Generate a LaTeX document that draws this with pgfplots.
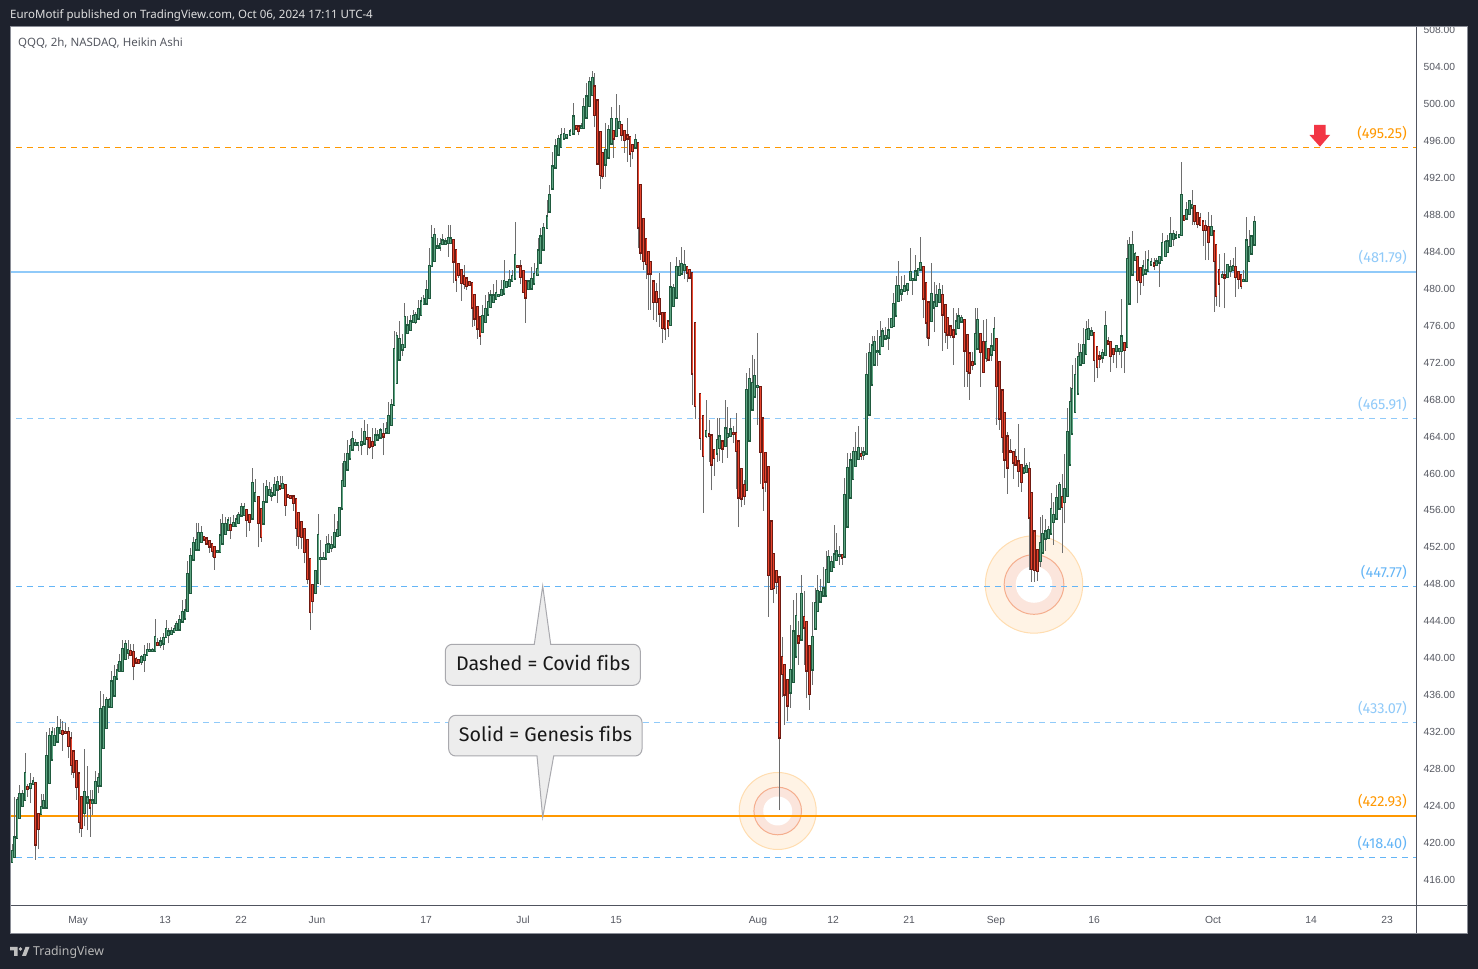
\documentclass[border=0pt]{standalone}
\usepackage{pgfplots}
\usepackage{pgfplotstable}
\usepackage{fontspec}
\pgfplotsset{compat=1.18}
\setmainfont{Liberation Sans}
\newfontfamily\uifont{Noto Sans}
\newfontfamily\callfont[Ligatures=NoCommon]{Fira Sans}
\definecolor{bgdark}{HTML}{1E222D}
\definecolor{frame}{HTML}{8A8D96}
\definecolor{divider}{HTML}{50535E}
\definecolor{ticktxt}{HTML}{555861}
\definecolor{wick}{HTML}{6E6E6E}
\definecolor{gdark}{HTML}{1F5A3E}
\definecolor{glight}{HTML}{5FA583}
\definecolor{rdark}{HTML}{6F1A12}
\definecolor{rlight}{HTML}{E8452E}
\definecolor{orangeL}{HTML}{FF9800}
\definecolor{blueA}{HTML}{90CAF9}
\definecolor{blueB}{HTML}{64B5F6}
\definecolor{ringA}{HTML}{FFF3E5}
\definecolor{ringAs}{HTML}{FFDDB0}
\definecolor{ringB}{HTML}{FBE5DC}
\definecolor{ringBs}{HTML}{F5AE8E}
\definecolor{callfill}{HTML}{EDEDED}
\definecolor{callline}{HTML}{A9A9AE}
\definecolor{arrowred}{HTML}{F23645}
\pgfplotstableread{
x o h l c
12.0 418.0 419.9 418.0 419.1
14.3 418.5 425.0 418.5 420.6
17.0 420.6 425.0 420.6 424.66
19.7 422.7 426.3 422.7 425.31
22.3 424.0 425.75 424.0 425.31
25.0 424.7 429.7 424.7 427.55
27.7 426.07 426.4 425.0 425.89
30.3 426.0 427.55 424.3 426.4
33.0 426.4 427.2 426.4 426.65
35.7 426.5 426.5 418.17 419.87
38.3 423.15 423.15 419.4 421.5
41.0 423.15 425.3 423.1 423.87
43.7 423.87 425.3 423.87 424.5
46.7 423.87 432.06 423.87 429.4
49.3 426.54 432.5 426.5 431.6
52.0 429.07 432.6 429.07 431.95
54.7 430.6 432.4 430.6 431.6
57.3 431.0 433.75 431.0 432.4
60.0 431.95 433.4 431.9 432.4
62.7 432.13 433.25 430.0 431.84
65.7 432.0 433.0 431.9 431.95
68.3 432.0 432.6 429.2 430.55
71.0 431.3 432.0 427.4 428.5
73.7 429.9 429.9 427.0 427.7
76.3 428.85 428.85 424.7 426.1
79.0 427.5 427.5 421.05 422.3
81.7 424.95 425.0 420.7 421.67
84.3 423.3 430.2 421.8 425.5
87.3 424.4 428.35 421.4 424.9
90.0 424.6 425.75 420.7 423.87
92.7 424.37 425.75 423.0 424.6
95.3 424.37 427.8 424.37 426.6
98.0 426.25 427.55 425.4 427.0
100.7 426.25 436.46 426.25 434.5
103.3 430.3 436.1 430.3 434.7
106.3 432.5 435.85 432.5 435.5
109.0 434.8 435.7 434.8 435.5
111.7 434.77 438.66 434.77 437.47
114.3 436.0 439.24 436.0 437.94
117.0 437.83 439.4 437.8 438.66
119.7 438.66 440.5 438.6 439.6
122.3 438.66 442.0 438.6 440.97
125.3 439.9 442.0 439.9 441.55
128.0 440.6 442.0 439.9 440.9
130.7 440.75 441.5 440.4 440.4
133.3 440.65 441.55 437.6 439.2
136.0 439.9 440.1 439.5 439.56
138.7 439.8 439.8 439.5 439.5
141.3 439.6 440.35 439.3 440.1
144.3 439.8 441.44 438.55 440.35
147.0 440.35 441.6 440.3 440.9
149.7 440.8 441.6 440.8 440.9
152.3 440.8 441.15 440.8 440.9
155.0 440.8 444.3 440.8 442.27
157.7 441.6 442.16 441.4 441.44
160.3 441.44 442.27 441.08 441.8
163.3 441.6 442.7 440.9 442.16
166.0 442.34 444.14 442.3 443.13
168.7 442.5 443.24 441.6 442.88
171.3 442.63 443.4 442.6 442.95
174.0 442.85 443.6 442.8 443.13
176.7 443.06 444.07 443.0 443.7
179.3 443.13 444.7 443.1 444.15
182.3 444.0 446.3 444.0 444.98
185.0 444.33 446.42 444.3 445.16
187.7 445.16 450.57 445.1 449.09
190.3 447.1 451.9 447.1 451.08
193.3 450.7 453.1 450.7 452.45
196.0 451.8 454.6 451.8 452.8
198.7 451.8 454.6 451.8 453.53
201.3 452.63 454.3 452.6 453.53
204.0 453.1 453.1 452.87 452.87
206.7 452.95 452.95 452.4 452.45
209.3 452.7 452.7 451.4 452.1
212.0 452.34 452.34 451.0 451.65
214.7 452.0 452.0 449.56 451.0
217.3 451.5 451.6 451.5 451.6
220.0 451.5 455.08 451.5 453.28
222.7 452.45 455.6 452.45 454.54
225.3 453.46 455.26 453.4 454.54
228.0 453.9 455.26 453.9 454.9
230.7 454.43 455.26 452.9 453.9
233.3 454.3 455.5 454.3 454.6
236.0 454.3 455.5 454.3 455.0
238.7 454.68 455.8 454.68 455.48
241.3 455.48 456.8 455.48 456.34
244.0 455.5 456.8 455.5 456.34
246.7 456.0 456.0 453.17 454.97
249.3 455.5 455.5 453.8 454.8
252.3 455.15 460.56 455.15 458.94
255.0 457.06 459.37 457.06 457.86
258.3 457.43 457.43 452.0 454.68
261.0 456.13 456.13 452.6 453.17
263.7 454.6 459.0 454.6 456.88
266.7 457.0 459.3 457.0 458.5
269.3 457.68 459.1 457.68 458.2
271.7 457.64 458.5 457.0 457.86
274.3 457.75 459.6 457.75 458.72
277.3 458.3 459.7 456.8 459.05
280.0 458.58 459.7 458.4 458.4
282.7 458.47 459.7 458.47 458.83
285.3 458.72 458.72 455.4 456.63
288.0 457.64 457.64 457.5 457.5
290.7 457.57 457.57 457.3 457.35
293.3 457.5 457.5 455.95 456.85
296.0 457.2 457.2 452.16 454.14
298.7 455.7 455.7 451.8 453.24
301.3 454.72 454.72 451.83 453.17
304.7 453.96 453.96 450.28 451.55
307.3 452.77 452.77 448.0 448.62
310.0 450.7 450.7 443.07 445.05
312.7 447.9 447.9 444.87 446.24
315.3 447.1 449.42 447.1 449.42
318.0 448.2 455.62 448.2 453.35
320.7 450.83 452.8 447.94 450.85
323.3 450.83 451.5 450.83 450.85
326.0 450.83 453.24 450.83 452.27
328.7 451.55 453.46 451.55 452.3
331.3 451.98 453.2 451.5 452.27
334.3 452.1 455.62 452.1 453.53
337.3 453.28 454.9 453.28 453.9
339.3 453.35 456.3 453.35 456.24
342.0 456.24 461.1 456.24 459.2
344.7 458.69 462.2 458.69 461.21
347.3 460.46 463.63 460.46 462.08
350.0 461.65 463.7 461.65 462.98
352.7 462.62 464.6 462.62 463.7
355.3 463.09 463.7 463.09 463.27
358.0 463.09 463.27 462.4 463.27
361.3 463.16 464.97 462.0 463.38
364.3 463.27 465.8 463.27 464.46
367.0 463.81 465.36 462.0 463.74
369.7 463.81 463.81 462.6 462.91
372.3 463.38 464.9 461.57 462.98
375.0 463.16 464.9 463.16 464.1
377.7 463.7 464.7 463.7 464.1
380.3 463.92 464.9 463.92 464.64
383.3 464.24 465.5 462.0 464.03
386.0 464.46 465.54 464.46 464.79
388.7 464.42 467.7 464.42 466.23
391.4 465.29 468.1 465.29 467.42
394.1 467.42 475.42 467.42 473.44
396.8 469.83 475.35 469.83 474.88
399.5 472.36 476.5 472.36 474.52
402.2 473.44 475.1 472.72 473.91
404.9 473.73 478.42 473.73 476.9
407.6 475.25 477.0 475.25 476.0
410.3 475.53 477.16 475.53 476.43
413.0 476.43 477.7 476.43 477.05
415.7 476.43 477.5 476.2 477.12
418.4 476.8 478.78 476.8 477.77
421.1 477.19 479.07 477.19 478.6
423.8 478.35 479.3 478.35 478.85
426.5 478.42 480.94 478.42 479.86
429.2 479.03 484.37 479.03 482.46
431.9 482.46 486.9 482.46 485.45
434.6 483.04 486.54 483.04 485.81
437.3 484.48 485.45 484.4 484.55
440.0 484.48 485.45 484.1 484.8
442.7 484.84 485.92 484.84 485.2
445.4 484.84 485.45 484.84 485.1
448.1 485.0 486.9 483.47 485.45
}\candlesA
\pgfplotstableread{
x o h l c
450.7 484.99 486.9 484.99 485.43
453.3 485.24 485.24 480.6 482.97
456.0 484.16 484.16 479.69 481.0
458.7 482.65 482.65 481.2 481.49
461.3 482.0 482.0 478.7 480.6
464.0 481.3 482.6 480.0 480.5
466.7 481.1 481.1 479.9 480.34
469.3 480.7 480.7 480.3 480.41
472.0 480.6 480.6 475.9 478.0
474.7 479.29 479.29 476.0 476.8
477.3 478.0 478.0 474.6 475.72
480.0 476.91 476.91 473.92 474.96
482.7 475.36 478.25 475.36 477.05
485.3 476.44 479.3 476.44 477.78
488.0 477.24 479.69 477.24 478.53
490.7 478.06 479.87 478.06 479.26
493.3 478.6 480.5 478.6 479.26
496.0 478.93 480.95 478.93 479.5
498.7 479.26 479.33 479.26 479.33
501.3 479.33 480.95 479.33 479.87
504.0 479.5 483.1 479.5 480.8
506.7 480.23 480.7 480.23 480.7
509.3 480.3 482.0 480.3 480.95
512.0 480.88 482.0 480.88 481.38
515.0 481.13 487.19 481.13 483.62
517.3 482.43 482.5 482.39 482.39
520.3 482.39 483.1 480.5 481.31
523.3 481.89 481.89 479.6 479.69
525.7 480.8 480.8 476.33 479.07
528.3 480.0 480.77 480.0 480.77
531.3 480.05 482.4 480.05 481.06
534.0 480.59 482.8 480.59 481.56
537.3 481.53 483.2 481.53 482.1
538.0 481.56 485.46 481.56 484.12
540.3 482.86 486.54 482.86 485.64
543.7 484.27 487.08 484.27 486.54
547.0 486.61 489.6 486.61 487.8
549.7 488.38 491.2 488.38 490.15
552.7 490.87 494.84 490.87 493.2
555.3 493.14 496.2 493.14 495.38
558.3 494.55 496.64 494.55 496.17
561.0 495.38 497.36 495.38 496.64
564.0 496.28 497.36 496.28 496.75
566.7 496.39 496.64 496.39 496.64
570.0 496.64 497.3 496.64 497.0
573.3 496.82 500.07 496.82 498.63
576.0 497.62 497.62 497.36 497.36
578.3 497.55 497.55 496.6 497.11
581.0 497.44 497.9 497.44 497.55
583.7 497.44 500.61 497.44 499.64
586.3 498.55 502.3 498.55 500.79
589.3 499.78 502.96 499.78 502.34
592.3 501.0 503.57 501.0 502.78
594.7 501.87 503.4 497.5 498.81
597.3 500.36 500.36 493.58 493.58
600.3 496.93 496.93 490.8 492.3
602.7 494.66 494.66 491.9 492.24
605.3 493.47 497.9 492.13 495.0
608.3 494.23 497.7 494.23 497.18
611.3 495.74 499.7 495.74 498.34
613.7 497.08 497.08 494.2 496.28
616.3 496.57 501.08 496.57 498.34
619.3 497.44 499.89 497.44 498.05
621.7 497.73 497.73 496.0 496.64
624.3 497.08 497.08 494.7 496.1
627.3 496.57 498.45 493.76 496.28
630.0 496.39 496.39 493.2 494.66
632.7 495.56 495.56 494.0 494.95
635.3 495.31 496.75 495.31 496.1
638.0 495.74 495.74 484.38 486.65
640.7 491.2 491.2 483.1 483.94
643.3 487.52 487.52 482.0 483.0
646.0 485.35 485.35 481.0 482.68
648.7 483.94 483.94 477.7 481.67
650.7 482.86 482.86 477.7 481.67
653.3 480.77 480.77 476.62 478.6
656.7 479.62 480.6 476.44 478.6
659.3 478.86 481.67 475.9 477.34
662.3 477.34 477.34 474.1 475.79
665.0 477.34 477.34 474.46 475.72
668.0 476.44 476.44 474.75 475.79
670.7 476.08 482.93 476.08 480.12
673.3 478.14 480.5 478.14 480.05
676.3 479.07 483.48 479.07 482.32
679.3 481.49 483.1 481.49 482.32
681.7 481.67 484.5 481.67 482.65
684.3 482.03 484.2 481.0 482.57
687.0 482.32 482.32 480.7 481.78
689.7 482.03 482.03 481.0 481.24
692.0 481.67 481.67 467.39 470.84
695.0 476.26 476.26 465.95 467.29
700.0 468.58 468.58 462.54 463.83
703.0 466.2 466.2 455.77 461.92
706.0 464.11 467.92 463.84 464.56
709.0 464.19 465.83 461.26 464.04
711.5 464.11 464.11 458.16 461.0
714.0 462.5 462.5 459.78 461.7
717.0 462.17 466.02 461.26 463.6
719.5 462.8 465.97 461.33 464.0
722.3 463.46 463.46 461.19 462.72
725.3 463.01 467.95 463.01 464.85
727.7 464.0 467.18 461.7 464.26
730.3 464.11 466.02 464.11 464.74
733.3 464.4 465.17 463.28 464.33
736.0 464.37 466.53 458.33 462.47
738.7 463.46 463.46 454.2 457.42
741.3 460.46 460.46 456.32 457.3
744.3 458.76 459.25 456.61 457.6
746.7 458.26 470.88 458.26 469.02
749.3 463.6 471.43 463.6 470.18
752.3 466.93 472.86 466.93 469.75
754.7 468.36 472.42 468.36 470.52
757.3 469.38 475.2 465.29 469.42
760.3 469.38 469.38 458.87 462.35
763.0 465.95 465.95 455.95 458.51
765.7 462.17 462.17 458.04 459.14
768.7 460.67 460.67 444.5 449.0
771.3 454.79 454.79 447.54 447.54
773.7 451.24 451.24 445.96 447.65
776.3 449.4 449.4 446.99 448.27
779.3 448.74 448.74 423.57 431.44
782.0 440.11 442.3 435.83 438.31
784.7 439.23 439.23 432.8 436.09
787.3 437.63 437.63 433.19 434.92
790.3 436.31 443.59 434.62 438.75
793.3 437.46 446.33 437.46 442.89
796.0 440.22 447.06 440.22 444.53
798.3 442.34 444.06 439.29 441.72
801.3 442.05 449.01 442.05 446.92
804.0 444.43 447.28 439.29 443.34
806.7 443.88 443.88 435.65 438.68
809.3 441.29 441.29 434.44 436.16
812.3 438.79 446.08 437.11 442.3
815.3 443.23 447.65 443.23 445.96
817.7 445.16 449.01 445.16 447.28
820.7 446.15 448.63 446.15 447.13
823.3 446.81 449.92 446.81 447.54
826.0 446.81 451.56 446.81 449.55
828.3 448.24 451.75 448.24 450.94
831.3 449.48 451.02 449.48 450.43
834.0 449.92 454.42 449.92 451.2
836.3 450.65 453.58 450.65 451.53
839.3 451.13 452.11 450.1 451.16
842.0 451.13 451.13 450.1 450.94
844.7 451.02 459.5 451.02 457.68
847.3 454.27 462.17 454.27 460.6
850.3 457.42 462.17 457.42 461.4
853.0 459.43 462.9 459.43 462.28
855.7 460.79 464.44 460.79 462.28
858.3 461.55 465.17 461.55 462.72
}\candlesB
\pgfplotstableread{
x o h l c
861.0 462.13 462.9 461.5 461.94
863.7 462.05 462.91 461.47 462.26
866.3 462.19 473.0 462.19 470.67
869.3 466.41 474.1 466.41 473.0
872.0 469.66 474.9 469.66 473.84
874.7 471.82 474.9 471.82 474.2
877.3 473.16 475.5 471.68 473.2
880.0 472.94 476.5 472.94 474.74
882.7 473.84 475.7 473.84 475.36
885.3 474.64 475.9 474.64 474.89
888.7 474.74 476.87 473.37 475.47
891.3 475.9 476.7 475.9 476.69
893.3 475.97 479.5 475.97 478.31
896.0 477.12 481.38 477.12 480.3
898.7 478.71 483.0 478.71 480.3
901.7 479.5 481.38 478.71 479.87
904.3 479.76 481.49 479.76 480.23
907.3 479.94 480.6 479.3 480.48
910.3 480.95 484.4 480.95 481.78
912.7 480.95 481.0 479.33 481.0
915.3 481.0 483.65 481.0 481.85
918.0 481.49 482.1 481.49 482.1
920.7 482.1 485.64 482.1 482.75
923.3 482.32 482.32 476.8 478.96
926.0 480.59 480.59 474.71 476.37
928.7 478.5 478.5 473.8 474.74
931.3 476.55 482.82 476.55 479.4
934.0 478.0 480.77 475.36 478.5
936.7 478.13 480.4 478.13 479.3
939.3 478.6 480.6 478.6 479.83
942.3 479.29 480.4 473.3 477.23
945.3 478.21 478.21 474.1 475.36
947.7 476.8 476.8 473.48 475.07
950.3 475.9 475.9 474.64 475.03
953.3 475.47 477.88 471.75 474.85
956.0 475.18 477.34 475.18 476.44
958.3 475.79 477.88 475.79 476.98
961.7 476.47 477.16 476.47 476.8
964.7 476.58 476.58 469.4 473.34
967.3 474.96 474.96 469.4 471.1
969.7 472.98 472.98 467.96 470.96
972.3 472.04 473.2 471.2 471.79
975.0 471.93 477.88 471.93 475.07
977.3 473.55 477.88 473.55 476.58
980.3 475.07 475.07 469.4 473.19
983.3 474.2 476.62 471.03 471.03
986.0 472.5 476.7 472.1 474.2
988.3 473.45 473.45 472.3 472.36
991.3 472.9 475.25 472.18 473.73
994.0 473.37 476.91 473.37 475.61
996.7 474.53 474.53 465.26 469.51
999.3 472.04 472.04 464.72 465.98
1002.3 468.97 468.97 462.26 463.99
1004.7 466.52 466.52 459.56 461.54
1007.3 463.99 464.53 457.79 460.67
1010.3 462.4 463.7 462.33 462.33
1013.3 462.33 462.33 459.4 461.2
1015.7 461.76 462.6 461.0 461.0
1018.3 461.29 465.36 458.58 460.3
1021.3 460.89 460.89 458.04 459.12
1024.0 460.13 462.73 460.13 460.53
1026.7 460.2 461.1 460.2 460.78
1029.3 460.46 461.2 449.57 455.26
1031.7 457.86 457.86 448.3 449.67
1034.3 453.71 453.71 448.3 449.56
1037.3 451.69 451.69 448.41 449.49
1040.3 450.57 455.26 449.92 452.45
1042.7 451.47 455.52 451.47 453.42
1045.7 452.99 455.05 451.66 453.71
1048.3 453.06 454.3 453.06 453.86
1051.0 453.53 457.86 453.53 456.17
1053.7 454.79 456.96 452.27 455.52
1056.7 455.16 458.76 455.16 457.32
1059.3 456.24 459.12 456.24 458.73
1062.0 457.43 459.92 451.37 456.42
1064.7 456.96 462.12 454.61 458.29
1067.3 457.61 467.13 457.61 464.46
1070.0 461.0 469.33 461.0 467.71
1072.0 464.36 471.75 464.36 469.12
1075.0 466.7 472.47 466.7 470.63
1078.0 468.68 474.17 468.68 472.58
1080.7 471.82 474.0 471.82 473.0
1083.3 472.0 475.7 472.0 473.9
1086.0 472.94 476.55 472.94 475.5
1088.7 474.6 476.69 474.6 475.61
1091.3 475.0 475.9 475.0 475.36
1094.0 475.18 475.18 469.95 472.29
1097.0 473.66 473.7 470.3 471.57
1099.3 472.65 473.3 471.4 472.47
1102.7 472.57 473.5 472.0 473.01
1105.3 472.83 477.59 472.83 475.97
1108.0 474.27 474.8 474.0 474.09
1110.7 474.2 474.2 471.02 472.75
1113.3 473.48 473.6 472.0 472.94
1116.3 473.3 473.9 471.38 473.8
1119.0 473.3 473.5 472.8 473.44
1121.7 473.26 478.89 471.38 474.81
1124.3 474.09 474.09 470.92 473.37
1127.0 473.73 485.27 473.73 483.18
1129.3 478.42 485.63 478.42 484.7
1132.3 481.56 486.25 481.56 484.7
1135.0 483.11 484.0 483.11 483.72
1137.3 483.4 483.4 478.42 480.94
1140.3 482.21 482.21 479.32 480.76
1143.0 481.56 483.11 480.33 482.39
1145.3 481.67 484.08 481.67 481.95
1148.0 481.95 484.19 481.95 483.04
1151.0 482.64 483.3 482.64 482.86
1154.0 482.71 483.29 482.03 482.53
1156.7 482.57 483.36 482.57 482.93
1159.3 482.86 483.47 480.22 483.4
1162.0 483.11 486.0 483.11 484.91
1165.3 483.54 485.3 483.54 485.06
1167.7 484.01 485.81 484.01 485.09
1170.3 484.62 487.8 484.62 485.89
1173.3 485.38 486.36 484.62 485.89
1176.0 485.56 486.2 485.56 485.74
1179.0 485.63 485.9 485.63 485.81
1181.7 485.81 493.68 485.81 490.14
1184.0 487.87 487.87 487.4 487.44
1186.7 487.62 489.42 487.62 488.52
1189.3 488.09 489.6 488.09 489.49
1192.0 488.81 490.68 486.9 489.03
1194.7 488.95 488.95 486.9 487.37
1197.3 488.16 488.16 486.54 487.0
1200.0 487.62 488.2 486.9 486.9
1203.0 487.26 487.26 484.66 486.36
1205.7 486.79 487.44 483.1 486.36
1208.3 486.64 488.34 483.11 485.09
1211.3 485.81 487.98 485.81 486.64
1214.0 486.17 486.17 477.52 483.04
1216.0 484.7 484.7 478.17 479.25
1219.0 482.03 483.72 478.06 480.58
1222.0 481.3 481.9 481.3 481.48
1224.7 481.41 483.83 477.88 481.23
1227.7 481.3 482.7 481.3 482.53
1230.3 481.95 483.11 481.3 482.31
1233.0 482.03 483.29 482.03 482.39
1235.7 482.35 484.55 479.14 481.3
1238.3 481.77 481.77 479.93 481.1
1241.0 481.48 481.48 479.93 480.33
1243.7 480.87 482.03 480.87 480.91
1246.3 480.87 487.73 480.87 485.2
1249.0 483.04 486.36 483.04 484.48
1251.7 483.83 485.8 483.83 485.63
1254.3 484.8 487.87 484.8 487.19
}\candlesC
\pgfplotsset{
  wickstyle/.style={no markers, draw=none, forget plot,
    error bars/y dir=plus, error bars/y explicit, error bars/error mark=none,
    error bars/error bar style={line width=1pt, draw=wick}},
  bodyout/.style={no markers, draw=none, forget plot,
    error bars/y dir=plus, error bars/y explicit, error bars/error mark=none,
    error bars/error bar style={line width=2.6pt, line cap=rect, draw=#1}},
  bodyin/.style={no markers, draw=none, forget plot,
    error bars/y dir=plus, error bars/y explicit, error bars/error mark=none,
    error bars/error bar style={line width=0.9pt, draw=#1}},
}
\newcommand{\candles}[1]{%
  \addplot[wickstyle] table[x=x, y=l, y error expr={\thisrow{h}-\thisrow{l}}] {#1};
}
\newcommand{\bodies}[1]{%
  \addplot[bodyout=gdark, x filter/.expression={\thisrow{c}>=\thisrow{o} ? x : nan}] table[x=x, y=o, y error expr={\thisrow{c}-\thisrow{o}}] {#1};
  \addplot[bodyin=glight, x filter/.expression={\thisrow{c}>=\thisrow{o} ? x : nan}] table[x=x, y=o, y error expr={\thisrow{c}-\thisrow{o}}] {#1};
  \addplot[bodyout=rdark, x filter/.expression={\thisrow{c}<\thisrow{o} ? x : nan}] table[x=x, y=c, y error expr={\thisrow{o}-\thisrow{c}}] {#1};
  \addplot[bodyin=rlight, x filter/.expression={\thisrow{c}<\thisrow{o} ? x : nan}] table[x=x, y=c, y error expr={\thisrow{o}-\thisrow{c}}] {#1};
}
\begin{document}
\begin{tikzpicture}
\path[use as bounding box] (0pt,0pt) rectangle (1478pt,969pt);
\begin{scope}[x=1pt,y=-1pt,yshift=969pt]
\fill[bgdark] (0,0) rectangle (1478,969);
\fill[white] (11,27) rectangle (1467,933);
\filldraw[fill=ringA,draw=ringAs,line width=1pt] (1034,584.5) circle[radius=48.7];
\filldraw[fill=ringB,draw=ringBs,line width=1pt] (1034,584.5) circle[radius=29.8];
\fill[white] (1034,584.5) circle[radius=18.3];
\filldraw[fill=ringA,draw=ringAs,line width=1pt] (777.7,811) circle[radius=38.5];
\filldraw[fill=ringB,draw=ringBs,line width=1pt] (777.7,811) circle[radius=23.8];
\fill[white] (777.7,811) circle[radius=14.5];
\end{scope}
\begin{axis}[
  at={(11pt,63pt)}, anchor=south west,
  width=1405pt, height=879pt, scale only axis,
  xmin=11, xmax=1416, ymin=413.186, ymax=508.33,
  axis line style={draw=none},
  tick style={draw=none},
  xtick={78,165,241,317,426,523,616,758,833,909,996,1094,1213,1311,1387},
  xticklabels={May,13,22,Jun,17,Jul,15,Aug,12,21,Sep,16,Oct,14,23},
  ytick={416,420,424,428,432,436,440,444,448,452,456,460,464,468,472,476,480,484,488,492,496,500,504,508},
  yticklabel pos=right,
  tick label style={font=\fontsize{10.3}{12}\selectfont, text=ticktxt},
  xticklabel style={yshift=-7pt},
  yticklabel style={xshift=4pt, /pgf/number format/fixed, /pgf/number format/fixed zerofill, /pgf/number format/precision=2, /pgf/number format/assume math mode=true, /pgf/number format/1000 sep={}},
  clip=true,
]
\addplot[orangeL, line width=1pt, dash pattern=on 6pt off 5pt, forget plot] coordinates {(16,495.25)(1416,495.25)};
\addplot[blueA, line width=2pt, forget plot] coordinates {(11,481.79)(1416,481.79)};
\addplot[blueA, line width=1pt, dash pattern=on 6pt off 5pt, forget plot] coordinates {(16,465.91)(1416,465.91)};
\addplot[blueB, line width=1pt, dash pattern=on 6pt off 5pt, forget plot] coordinates {(16,447.77)(1416,447.77)};
\addplot[blueA, line width=1pt, dash pattern=on 6pt off 5pt, forget plot] coordinates {(16,433.07)(1416,433.07)};
\addplot[orangeL, line width=2pt, forget plot] coordinates {(11,422.93)(1416,422.93)};
\addplot[blueB, line width=1pt, dash pattern=on 6pt off 5pt, forget plot] coordinates {(16,418.40)(1416,418.40)};
\candles{\candlesA}\candles{\candlesB}\candles{\candlesC}
\bodies{\candlesA}\bodies{\candlesB}\bodies{\candlesC}
\end{axis}
\begin{scope}[x=1pt,y=-1pt,yshift=969pt]
\draw[divider,line width=1pt] (1416,27) -- (1416,933);
\draw[divider,line width=1pt] (11,906) -- (1467,906);
\fill[bgdark] (0,0) rectangle (1478,26.5);
\draw[frame,line width=1pt] (10.5,27) rectangle (1467.5,933.5);
\filldraw[fill=callfill,draw=callline,line width=1pt] (534.3,644.3) -- (542.7,586) -- (550.7,644.3) [rounded corners=7pt] -- (640.3,644.3) -- (640.3,685.3) -- (445.3,685.3) -- (445.3,644.3) [sharp corners] -- cycle;
\filldraw[fill=callfill,draw=callline,line width=1pt] (553.7,756) -- (542.7,817.3) -- (537,756) [rounded corners=7pt] -- (448.7,756) -- (448.7,715.3) -- (642,715.3) -- (642,756) [sharp corners] -- cycle;
\node[font=\callfont\fontsize{19.7}{24}\selectfont,text=black!90] at (543,663) {Dashed = Covid fibs};
\node[font=\callfont\fontsize{19.7}{24}\selectfont,text=black!90] at (545.5,734) {Solid = Genesis fibs};
\foreach \y/\t/\c in {133/495.25/orangeL,257/481.79/blueA,404/465.91/blueA,572/447.77/blueB,708/433.07/blueA,801/422.93/orangeL,843/418.40/blueB}
  \node[anchor=east,inner sep=0pt,text=\c,font=\callfont\fontsize{14.5}{16}\selectfont] at (1407,\y) {(\t)};
\fill[arrowred] (1314,125) -- (1325.5,125) -- (1325.5,135) -- (1330,135) -- (1320,146.7) -- (1309.5,135) -- (1314,135) -- cycle;
\node[anchor=west,inner sep=0pt,text=white!88!black,font=\uifont\fontsize{11.5}{13}\selectfont] at (10,15.5) {EuroMotif published on TradingView.com, Oct 06, 2024 17:11 UTC-4};
\node[anchor=west,inner sep=0pt,text=ticktxt,font=\uifont\fontsize{11.5}{13}\selectfont] at (18,43) {QQQ, 2h, NASDAQ, Heikin Ashi};
\fill[white!75!black] (10,947) -- (17.5,947) -- (17.5,956) -- (14,956) -- (14,950.5) -- (10,950.5) -- cycle;
\fill[white!75!black] (20.5,949) circle[radius=1.9];
\fill[white!75!black] (22,956) -- (25.5,947) -- (29.5,947) -- (26,956) -- cycle;
\node[anchor=west,inner sep=0pt,text=white!72!black,font=\uifont\fontsize{12.3}{15}\selectfont] at (33,952) {TradingView};
\end{scope}
\end{tikzpicture}
\end{document}
